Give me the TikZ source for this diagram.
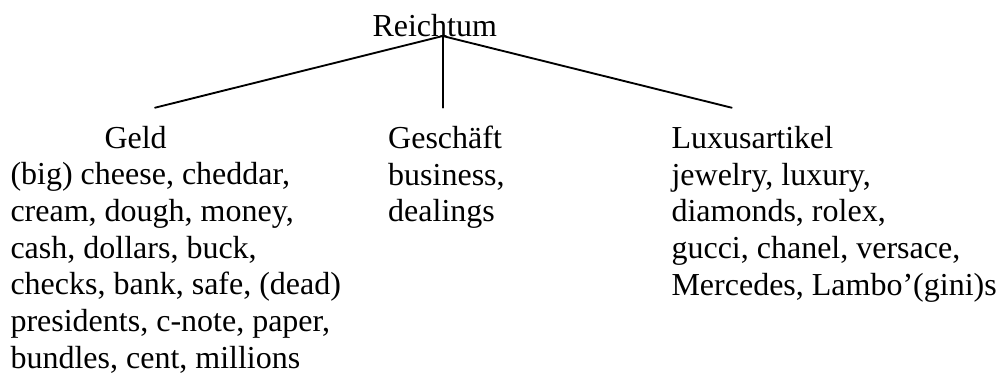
\documentclass[tikz,border=0pt]{standalone}
\usepackage{fontspec}
\setmainfont{Liberation Serif}
\begin{document}
\begin{tikzpicture}[line cap=round,line join=round,x=0.375pt,y=-0.375pt,
	word/.style={inner sep=0pt,anchor=base west,font=\fontsize{12}{13.76}\selectfont},
	words/.style={word,align=left}]
		\useasboundingbox (0,0) rectangle (998,374);
		% top word and the three branches
		\node[word] (reich) at (372,36.7) {Reichtum};
		\node[word] (geld) at (104,148.3) {Geld};
		\node[word] (gesch) at (387.7,148.3) {Geschäft};
		\node[word] (luxus) at (671,148.3) {Luxusartikel};
		% word lists, placed by the base of their last line
		\node[words] (geldlist) at (10,368.3) {(big) cheese, cheddar,\\cream, dough, money,\\cash, dollars, buck,\\checks, bank, safe, (dead)\\presidents, c-note, paper,\\bundles, cent, millions};
		\node[words] (geschlist) at (387.7,221.7) {business,\\dealings};
		\node[words] (luxuslist) at (671,295.1) {jewelry, luxury,\\diamonds, rolex,\\gucci, chanel, versace,\\Mercedes, Lambo’(gini)s};
		\coordinate (top) at (442.7,36);
		\coordinate (geldend) at (155,107.7);
		\coordinate (geschend) at (442.7,107.7);
		\coordinate (luxusend) at (731.7,107.7);
		\draw[line width=0.7pt] (top)-- (geldend);
		\draw[line width=0.7pt] (top)-- (geschend);
		\draw[line width=0.7pt] (top)-- (luxusend);
		\end{tikzpicture}
\end{document}
